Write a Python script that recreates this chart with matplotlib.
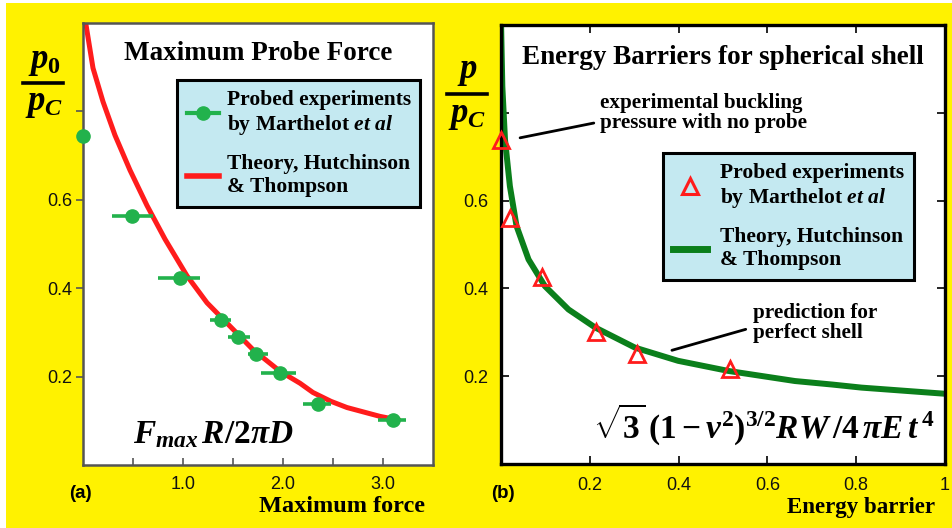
import matplotlib
matplotlib.use("Agg")
import matplotlib.pyplot as plt
from matplotlib.lines import Line2D
from matplotlib.patches import Rectangle

# mathtext in bold serif so the formulas look like the figure
plt.rcParams['mathtext.fontset'] = 'custom'
plt.rcParams['mathtext.it'] = 'Liberation Serif:italic:bold'
plt.rcParams['mathtext.rm'] = 'Liberation Serif:bold'
plt.rcParams['mathtext.bf'] = 'Liberation Serif:bold'
plt.rcParams['font.family'] = 'Liberation Sans'

# ---- panel (a): maximum probe force ----
force_x = [0.0, 0.49, 0.97, 1.38, 1.55, 1.73, 1.97, 2.35, 3.1]
force_p = [0.745, 0.564, 0.423, 0.327, 0.29, 0.252, 0.209, 0.139, 0.102]
force_err_lo = [0.0, 0.20, 0.22, 0.11, 0.10, 0.08, 0.19, 0.15, 0.15]
force_err_hi = [0.0, 0.21, 0.20, 0.10, 0.12, 0.12, 0.16, 0.13, 0.13]

theory_a_x = [0.0, 0.02, 0.10, 0.20, 0.32, 0.47, 0.64, 0.82, 1.04, 1.24, 1.47, 1.70, 1.97,
              2.17, 2.30, 2.48, 2.64, 2.97, 3.15]
theory_a_p = [1.05, 1.01, 0.898, 0.822, 0.746, 0.667, 0.587, 0.511, 0.428, 0.367, 0.314, 0.261,
              0.212, 0.185, 0.164, 0.144, 0.130, 0.110, 0.102]

# ---- panel (b): energy barriers ----
barrier_x = [0.0, 0.02, 0.092, 0.214, 0.306, 0.516]
barrier_p = [0.739, 0.561, 0.425, 0.30, 0.25, 0.216]

theory_b_x = [0.0, 0.003, 0.009, 0.020, 0.035, 0.062, 0.099, 0.152, 0.212, 0.302, 0.399, 0.512,
              0.662, 0.746, 0.812, 1.0]
theory_b_p = [1.01, 0.86, 0.739, 0.633, 0.542, 0.466, 0.405, 0.352, 0.311, 0.265, 0.235, 0.212,
              0.189, 0.181, 0.174, 0.16]

yellow = '#fff200'
legend_blue = '#c4e9f1'
green_pts = '#22b24c'
green_line = '#0b7f1b'
red = '#ff1c1c'
serif = 'Liberation Serif'

fig = plt.figure(figsize=(9.53, 5.28), dpi=100)
fig.patch.set_facecolor('white')
fig.add_artist(Rectangle((6 / 953, 0), 1, 1 - 3 / 528, transform=fig.transFigure,
                         facecolor=yellow, edgecolor='none', zorder=-5))

W, H = 953, 528


def px_axes(l, t, r, b):
    return fig.add_axes([l / W, 1 - b / H, (r - l) / W, (b - t) / H])


# ======================= panel (a) =======================
ax1 = px_axes(83, 23, 433, 465)
ax1.plot(theory_a_x, theory_a_p, color=red, lw=3.6, zorder=2)
ax1.errorbar(force_x, force_p, xerr=[force_err_lo, force_err_hi], fmt='o', color=green_pts,
             ms=9.5, elinewidth=2.6, capsize=0, zorder=3, clip_on=False)
ax1.set_xlim(0, 3.5)
ax1.set_ylim(0, 1.0)
ax1.set_xticks([1, 2, 3])
ax1.set_xticklabels(['1.0', '2.0', '3.0'])
ax1.set_xticks([0.5, 1.5, 2.5], minor=True)
ax1.set_yticks([0.2, 0.4, 0.6, 0.8])
ax1.set_yticklabels(['0.2', '0.4', '0.6', ''])
ax1.tick_params(axis='x', which='both', direction='in', length=5, width=1.2, color='#555555',
                labelsize=13, pad=8, labelcolor='#111111')
ax1.tick_params(axis='y', direction='out', length=5, width=1.2, color='#555555',
                labelsize=13, pad=3, labelcolor='#111111')
for s in ax1.spines.values():
    s.set_color('#555555')
    s.set_linewidth(1.8)

ax1.text(0.5, 0.93, 'Maximum Probe Force', transform=ax1.transAxes, ha='center', va='center',
         family=serif, weight='bold', fontsize=19.5)
ax1.text(0.5, 0.05, r'$F_{max}\,R/2\pi D$', fontsize=24)

h1 = [Line2D([], [], color=green_pts, marker='o', ms=9.5, lw=3),
      Line2D([], [], color=red, lw=4)]
leg1 = ax1.legend(h1, ['Probed experiments\nby Marthelot $et\\ al$',
                       'Theory, Hutchinson\n& Thompson'],
                  loc='upper left', bbox_to_anchor=(177 / W, 1 - 80 / H),
                  bbox_transform=fig.transFigure, borderaxespad=0, fancybox=False,
                  framealpha=1, facecolor=legend_blue, edgecolor='black',
                  prop=dict(family=serif, weight='bold', size=15.5),
                  handlelength=1.5, handletextpad=0.35, labelspacing=0.8, borderpad=0.45)
leg1.get_frame().set_linewidth(2.2)

# ======================= panel (b) =======================
ax2 = px_axes(501, 25, 945, 464)
ax2.plot(theory_b_x, theory_b_p, color=green_line, lw=4.3, zorder=2)
ax2.plot(barrier_x, barrier_p, linestyle='none', marker='^', ms=11, mfc='none', mec=red,
         mew=2, zorder=3, clip_on=False)
ax2.set_xlim(0, 1)
ax2.set_ylim(0, 1.0)
ax2.set_xticks([0.2, 0.4, 0.6, 0.8, 1.0])
ax2.set_xticklabels(['0.2', '0.4', '0.6', '0.8', '1'])
ax2.set_yticks([0.2, 0.4, 0.6, 0.8])
ax2.set_yticklabels(['0.2', '0.4', '0.6', ''])
ax2.tick_params(which='both', direction='in', length=6, width=1.2, top=True, right=True,
                labelsize=13, labelcolor='#111111')
ax2.tick_params(axis='x', pad=9)
ax2.tick_params(axis='y', pad=9)
for s in ax2.spines.values():
    s.set_color('black')
    s.set_linewidth(2.4)

ax2.text(0.5, 0.925, 'Energy Barriers for spherical shell', transform=ax2.transAxes,
         ha='center', va='center', family=serif, weight='bold', fontsize=19.5)
ax2.text(0.207, 0.06, r'$\sqrt{3}\,(1 - \nu^2)^{3/2}RW\,/4\,\pi E\,t^{\,4}$', fontsize=24)

ax2.annotate('experimental buckling\npressure with no probe', xy=(0.043, 0.743),
             xytext=(0.223, 0.845), ha='left', va='top', family=serif, weight='bold',
             fontsize=15.2, linespacing=1.0,
             arrowprops=dict(arrowstyle='-', color='black', lw=2, shrinkA=0, shrinkB=0,
                             relpos=(-0.03, 0.25)))
ax2.annotate('prediction for\nperfect shell', xy=(0.385, 0.259), xytext=(0.568, 0.366),
             ha='left', va='top', family=serif, weight='bold', fontsize=15.2, linespacing=1.0,
             arrowprops=dict(arrowstyle='-', color='black', lw=2, shrinkA=0, shrinkB=0,
                             relpos=(-0.06, 0.35)))

h2 = [Line2D([], [], linestyle='none', marker='^', ms=12, mfc='none', mec=red, mew=2.2),
      Line2D([], [], color=green_line, lw=5)]
leg2 = ax2.legend(h2, ['Probed experiments\nby Marthelot $et\\ al$',
                       'Theory, Hutchinson\n& Thompson'],
                  loc='upper left', bbox_to_anchor=(663 / W, 1 - 153 / H),
                  bbox_transform=fig.transFigure, borderaxespad=0, fancybox=False,
                  framealpha=1, facecolor=legend_blue, edgecolor='black',
                  prop=dict(family=serif, weight='bold', size=15.5),
                  handlelength=1.6, handletextpad=0.6, labelspacing=0.8, borderpad=0.45)
leg2.get_frame().set_linewidth(2.2)

# ---- y-axis fraction labels and bottom labels ----
def frac(x, y_num, y_bar, y_den, num, bar_l, bar_r):
    fig.text(x / W, 1 - y_num / H, num, ha='center', va='center', fontsize=25)
    fig.add_artist(Line2D([bar_l / W, bar_r / W], [1 - y_bar / H, 1 - y_bar / H],
                          color='black', lw=2.6, transform=fig.transFigure))
    fig.text(x / W, 1 - y_den / H, r'$p_C$', ha='center', va='center', fontsize=25)


frac(44, 62, 83, 104, r'$p_0$', 23, 63)
frac(467, 72, 94, 115, r'$p$', 447, 487)

fig.text(80 / W, 1 - 493 / H, '(a)', ha='center', va='center', fontsize=13.5, weight='bold')
fig.text(503 / W, 1 - 493 / H, '(b)', ha='center', va='center', fontsize=13.5, weight='bold')
fig.text(425 / W, 1 - 506 / H, 'Maximum force', ha='right', va='center', family=serif,
         weight='bold', fontsize=17.5)
fig.text(935 / W, 1 - 508 / H, 'Energy barrier', ha='right', va='center', family=serif,
         weight='bold', fontsize=16.5)

fig.savefig('out.png', dpi=100, facecolor=fig.get_facecolor())
